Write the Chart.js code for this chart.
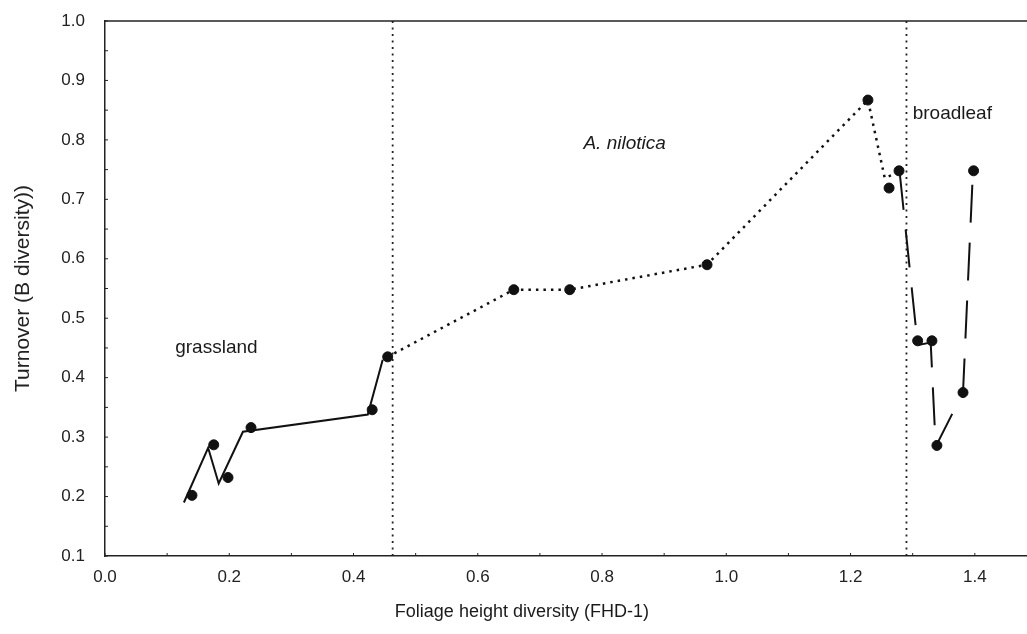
<!DOCTYPE html>
<html>
<head>
<meta charset="utf-8">
<script src="https://cdn.jsdelivr.net/npm/chart.js@4/dist/chart.umd.min.js"></script>
<style>
  body { margin: 0; background: #fff; }
  #wrap { width: 1027px; height: 634px; }
</style>
</head>
<body>
<div id="wrap"><canvas id="grafico" width="1027" height="634"></canvas></div>
<script>
// Line vertices (x = FHD-1, y = turnover)
let grassX = [0.127, 0.166, 0.183, 0.222, 0.423, 0.447];
let grassY = [0.190, 0.282, 0.222, 0.309, 0.338, 0.430];

let niloticaX = [0.455, 0.658, 0.748, 0.969, 1.228, 1.255, 1.276];
let niloticaY = [0.435, 0.548, 0.548, 0.590, 0.867, 0.736, 0.745];

let broadX = [1.279, 1.308, 1.329, 1.337, 1.381, 1.397];
let broadY = [0.746, 0.455, 0.459, 0.284, 0.375, 0.748];

// Plotted symbols
let markX = [0.140, 0.175, 0.198, 0.235, 0.430, 0.455, 0.658, 0.748, 0.969, 1.228, 1.262, 1.278, 1.308, 1.331, 1.339, 1.381, 1.398];
let markY = [0.202, 0.287, 0.232, 0.316, 0.346, 0.435, 0.548, 0.548, 0.590, 0.867, 0.719, 0.748, 0.462, 0.462, 0.286, 0.375, 0.748];

// Habitat boundaries
let boundaries = [0.463, 1.29];

// Axes
let xTicks = [0.0, 0.2, 0.4, 0.6, 0.8, 1.0, 1.2, 1.4];
let yTicks = [0.1, 0.2, 0.3, 0.4, 0.5, 0.6, 0.7, 0.8, 0.9, 1.0];
let xMinorTicks = [0.1, 0.3, 0.5, 0.7, 0.9, 1.1, 1.3];
let yMinorTicks = [0.15, 0.25, 0.35, 0.45, 0.55, 0.65, 0.75, 0.85, 0.95];

// Text labels
let regionLabels = [
    { text: "grassland", x: 0.113, y: 0.450, italic: false },
    { text: "A. nilotica", x: 0.770, y: 0.793, italic: true },
    { text: "broadleaf", x: 1.300, y: 0.844, italic: false }
];
let xTitle = "Foliage height diversity (FHD-1)";
let yTitle = "Turnover (B diversity))";

let fuente = "'Liberation Sans', Arial, sans-serif";

function puntos(xs, ys) {
    return xs.map((x, i) => ({ x: x, y: ys[i] }));
}

let datasets = [
    { data: puntos(grassX, grassY), borderColor: "#111", borderWidth: 2, pointRadius: 0, showLine: true },
    { data: puntos(niloticaX, niloticaY), borderColor: "#111", borderWidth: 2.5, borderDash: [2.5, 5], pointRadius: 0, showLine: true },
    { data: puntos(broadX, broadY), borderColor: "#111", borderWidth: 2, borderDash: [38, 20], pointRadius: 0, showLine: true },
    { data: puntos(markX, markY), backgroundColor: "#111", borderColor: "#111", pointRadius: 5, showLine: false }
];
boundaries.forEach(b => {
    datasets.push({
        data: [{ x: b, y: 0.1 }, { x: b, y: 1.0 }],
        borderColor: "#222", borderWidth: 1.8, borderDash: [2, 4.5], pointRadius: 0, showLine: true
    });
});

// Extra drawing: frame top, inward ticks, text labels, x title
let extras = {
    id: "extras",
    afterDraw(chart) {
        let ctx = chart.ctx;
        let a = chart.chartArea;
        let sx = chart.scales.x;
        let sy = chart.scales.y;
        ctx.save();
        ctx.strokeStyle = "#222";
        ctx.lineWidth = 1.5;
        ctx.beginPath();
        ctx.moveTo(a.left, a.top);
        ctx.lineTo(a.right, a.top);
        ctx.stroke();

        ctx.lineWidth = 1;
        ctx.beginPath();
        xTicks.concat(xMinorTicks).forEach(v => {
            let px = sx.getPixelForValue(v);
            ctx.moveTo(px, a.bottom);
            ctx.lineTo(px, a.bottom - 3);
        });
        yTicks.concat(yMinorTicks).forEach(v => {
            let py = sy.getPixelForValue(v);
            ctx.moveTo(a.left, py);
            ctx.lineTo(a.left + 3, py);
        });
        ctx.stroke();

        ctx.fillStyle = "#1a1a1a";
        ctx.textBaseline = "middle";
        ctx.textAlign = "left";
        regionLabels.forEach(l => {
            ctx.font = (l.italic ? "italic " : "") + "19px " + fuente;
            ctx.fillText(l.text, sx.getPixelForValue(l.x), sy.getPixelForValue(l.y));
        });

        ctx.font = "18px " + fuente;
        ctx.textAlign = "center";
        ctx.fillText(xTitle, sx.getPixelForValue(0.671), a.bottom + 56);
        ctx.restore();
    }
};

let ctx = document.getElementById("grafico").getContext("2d");
let grafico = new Chart(ctx, {
    type: "scatter",
    data: { datasets: datasets },
    options: {
        responsive: false,
        animation: false,
        layout: { autoPadding: false, padding: { top: 21, right: 0, left: 0, bottom: 0 } },
        plugins: { legend: { display: false }, tooltip: { enabled: false } },
        scales: {
            x: {
                type: "linear",
                min: 0,
                max: 1.484,
                afterBuildTicks: scale => { scale.ticks = xTicks.map(v => ({ value: v })); },
                afterFit: scale => {
                    scale.height = 78;
                    scale.paddingLeft = 0;
                    scale.paddingRight = 0;
                },
                grid: { display: false, drawTicks: false },
                border: { display: true, color: "#222", width: 1.5 },
                ticks: {
                    padding: 11,
                    color: "#222",
                    font: { family: fuente, size: 17 },
                    callback: v => v.toFixed(1)
                }
            },
            y: {
                type: "linear",
                min: 0.1,
                max: 1.0,
                afterBuildTicks: scale => { scale.ticks = yTicks.map(v => ({ value: v })); },
                afterFit: scale => {
                    scale.width = 105;
                    scale.paddingTop = 0;
                    scale.paddingBottom = 0;
                },
                grid: { display: false, drawTicks: false },
                border: { display: true, color: "#222", width: 1.5 },
                title: {
                    display: true,
                    text: yTitle,
                    color: "#222",
                    font: { family: fuente, size: 21 },
                    padding: { top: 11, bottom: 0 }
                },
                ticks: {
                    padding: 20,
                    color: "#222",
                    font: { family: fuente, size: 17 },
                    callback: v => v.toFixed(1)
                }
            }
        }
    },
    plugins: [extras]
});
</script>
</body>
</html>
